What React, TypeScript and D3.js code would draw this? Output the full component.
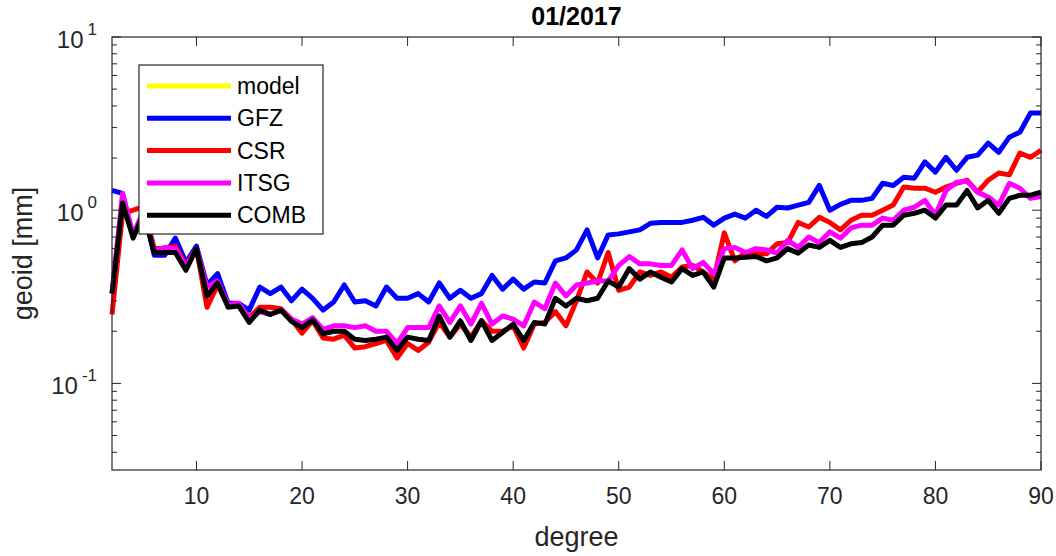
import * as d3 from "d3";

// spherical harmonic degree 2..90
const degrees = d3.range(2, 91);

const model: number[] = [];

const gfz = [
  1.3, 1.25, 0.7, 1.0, 0.55, 0.55, 0.69, 0.5, 0.62,
  0.37, 0.43, 0.29, 0.29, 0.265, 0.36, 0.33, 0.36, 0.3, 0.35,
  0.31, 0.265, 0.295, 0.37, 0.295, 0.3, 0.28, 0.36, 0.31, 0.31,
  0.33, 0.295, 0.38, 0.31, 0.345, 0.31, 0.33, 0.42, 0.35, 0.4,
  0.35, 0.385, 0.38, 0.51, 0.53, 0.59, 0.77, 0.53, 0.72, 0.73,
  0.75, 0.77, 0.84, 0.85, 0.85, 0.85, 0.875, 0.91, 0.82, 0.9,
  0.95, 0.9, 1.0, 0.92, 1.04, 1.03, 1.07, 1.11, 1.39, 1.0,
  1.08, 1.14, 1.14, 1.17, 1.43, 1.39, 1.55, 1.53, 1.9, 1.66,
  2.02, 1.7, 2.02, 2.08, 2.44, 2.16, 2.64, 2.82, 3.64, 3.64,
];

const csr = [
  0.25, 0.96, 1.0, 1.05, 0.6, 0.6, 0.62, 0.48, 0.6,
  0.275, 0.37, 0.28, 0.285, 0.24, 0.275, 0.275, 0.27, 0.235, 0.195,
  0.23, 0.183, 0.18, 0.19, 0.16, 0.163, 0.17, 0.177, 0.14, 0.17,
  0.155, 0.173, 0.225, 0.185, 0.22, 0.185, 0.23, 0.2, 0.2, 0.215,
  0.16, 0.22, 0.225, 0.26, 0.215, 0.3, 0.44, 0.38, 0.57, 0.345,
  0.36, 0.44, 0.42, 0.44, 0.41, 0.47, 0.48, 0.44, 0.4, 0.74,
  0.51, 0.57, 0.56, 0.56, 0.64, 0.65, 0.85, 0.8, 0.91, 0.85,
  0.77, 0.875, 0.935, 0.935, 1.0, 1.07, 1.36, 1.34, 1.34, 1.27,
  1.36, 1.43, 1.49, 1.27, 1.49, 1.64, 1.6, 2.14, 2.02, 2.22,
];

const itsg = [
  0.33, 1.25, 0.72, 1.0, 0.58, 0.61, 0.6, 0.47, 0.6,
  0.36, 0.39, 0.285, 0.29, 0.235, 0.26, 0.25, 0.265, 0.235, 0.22,
  0.24, 0.205, 0.215, 0.215, 0.21, 0.215, 0.2, 0.2, 0.17, 0.21,
  0.21, 0.21, 0.28, 0.225, 0.28, 0.22, 0.29, 0.22, 0.245, 0.235,
  0.215, 0.295, 0.27, 0.38, 0.32, 0.37, 0.38, 0.39, 0.39, 0.48,
  0.54, 0.49, 0.49, 0.48, 0.48, 0.59, 0.46, 0.5, 0.43, 0.6,
  0.61, 0.57, 0.6, 0.59, 0.565, 0.67, 0.61, 0.7, 0.65, 0.75,
  0.69, 0.79, 0.82, 0.82, 0.9, 0.875, 1.0, 1.04, 1.14, 0.935,
  1.3, 1.45, 1.47, 1.27, 1.19, 1.07, 1.43, 1.34, 1.17, 1.2,
];

const comb = [
  0.33, 1.1, 0.69, 0.96, 0.57, 0.57, 0.57, 0.45, 0.6,
  0.32, 0.38, 0.275, 0.28, 0.225, 0.265, 0.25, 0.265, 0.228, 0.21,
  0.232, 0.193, 0.2, 0.2, 0.18, 0.177, 0.18, 0.185, 0.155, 0.185,
  0.18, 0.177, 0.245, 0.185, 0.23, 0.177, 0.23, 0.177, 0.197, 0.22,
  0.177, 0.225, 0.22, 0.31, 0.28, 0.31, 0.3, 0.31, 0.39, 0.36,
  0.46, 0.4, 0.44, 0.41, 0.385, 0.46, 0.42, 0.44, 0.36, 0.53,
  0.53, 0.535, 0.54, 0.51, 0.53, 0.6, 0.565, 0.63, 0.61, 0.67,
  0.61, 0.64, 0.65, 0.7, 0.82, 0.82, 0.935, 0.96, 1.0, 0.9,
  1.07, 1.07, 1.3, 1.03, 1.14, 0.96, 1.17, 1.22, 1.22, 1.27,
];

const seriesNames = ["model", "GFZ", "CSR", "ITSG", "COMB"];
const seriesColors = ["#ffff00", "#0000ff", "#ff0000", "#ff00ff", "#000000"];
const seriesValues = [model, gfz, csr, itsg, comb];

const xTicks = [10, 20, 30, 40, 50, 60, 70, 80, 90];
const yMajor = [0.1, 1, 10];
const yExp = ["-1", "0", "1"];

const W = 1056;
const H = 556;
const m = { left: 112, right: 15, top: 37, bottom: 86 };
const axisColor = "#262626";
const font = "'Liberation Sans', Arial, Helvetica, sans-serif";

export default function App() {
  const x = d3.scaleLinear().domain([2, 90]).range([m.left, W - m.right]);
  const y = d3
    .scaleLog()
    .domain([Math.pow(10, -1.5), 10])
    .range([H - m.bottom, m.top]);

  const [x0, x1] = x.range();
  const [y0, y1] = y.range();

  const line = d3
    .line<number>()
    .x((_, i) => x(degrees[i]))
    .y((v) => y(v));

  const minor: number[] = [];
  [0.01, 0.1, 1].forEach((b) => {
    for (let k = 2; k <= 9; k++) {
      const v = b * k;
      if (v >= y.domain()[0] && v <= 10) minor.push(v);
    }
  });

  const leg = { x: 139, y: 65, w: 184, h: 169 };

  return (
    <svg width={W} height={H} style={{ position: "absolute", left: 0, top: 0, fontFamily: font }}>
      <rect width={W} height={H} fill="#fff" />
      <text x={(x0 + x1) / 2} y={25} textAnchor="middle" fontSize={25} fontWeight="bold" fill="#000">
        01/2017
      </text>

      {/* data */}
      {seriesValues.map((vals, si) =>
        vals.length ? (
          <path
            key={seriesNames[si]}
            d={line(vals) || ""}
            fill="none"
            stroke={seriesColors[si]}
            strokeWidth={5}
            strokeLinejoin="round"
          />
        ) : null
      )}

      {/* axes box */}
      <rect x={x0} y={y1} width={x1 - x0} height={y0 - y1} fill="none" stroke={axisColor} strokeWidth={1.2} />
      {xTicks.map((t) => (
        <g key={t}>
          <line x1={x(t)} x2={x(t)} y1={y0} y2={y0 - 9} stroke={axisColor} />
          <line x1={x(t)} x2={x(t)} y1={y1} y2={y1 + 9} stroke={axisColor} />
          <text x={x(t)} y={y0 + 34} textAnchor="middle" fontSize={23} fill={axisColor}>
            {t}
          </text>
        </g>
      ))}
      {yMajor.map((t, i) => (
        <g key={t}>
          <line x1={x0} x2={x0 + 9} y1={y(t)} y2={y(t)} stroke={axisColor} />
          <line x1={x1} x2={x1 - 9} y1={y(t)} y2={y(t)} stroke={axisColor} />
          <text x={97} y={y(t) + 11} textAnchor="end" fontSize={24} fill={axisColor}>
            10
            <tspan dx={4} dy={-13} fontSize={17}>
              {yExp[i]}
            </tspan>
          </text>
        </g>
      ))}
      {minor.map((t) => (
        <g key={"m" + t}>
          <line x1={x0} x2={x0 + 5} y1={y(t)} y2={y(t)} stroke={axisColor} />
          <line x1={x1} x2={x1 - 5} y1={y(t)} y2={y(t)} stroke={axisColor} />
        </g>
      ))}

      <text
        transform={`translate(32,${(y0 + y1) / 2}) rotate(-90)`}
        textAnchor="middle"
        fontSize={27}
        fill={axisColor}
      >
        geoid [mm]
      </text>
      <text x={(x0 + x1) / 2} y={546} textAnchor="middle" fontSize={27} fill={axisColor}>
        degree
      </text>

      {/* legend */}
      <rect x={leg.x} y={leg.y} width={leg.w} height={leg.h} fill="#fff" stroke={axisColor} strokeWidth={1.2} />
      {seriesNames.map((name, i) => {
        const ly = leg.y + 21 + i * 32.3;
        return (
          <g key={name}>
            <line x1={147} x2={231} y1={ly} y2={ly} stroke={seriesColors[i]} strokeWidth={5} />
            <text x={237} y={ly + 8} fontSize={23} fill="#000">
              {name}
            </text>
          </g>
        );
      })}
    </svg>
  );
}
